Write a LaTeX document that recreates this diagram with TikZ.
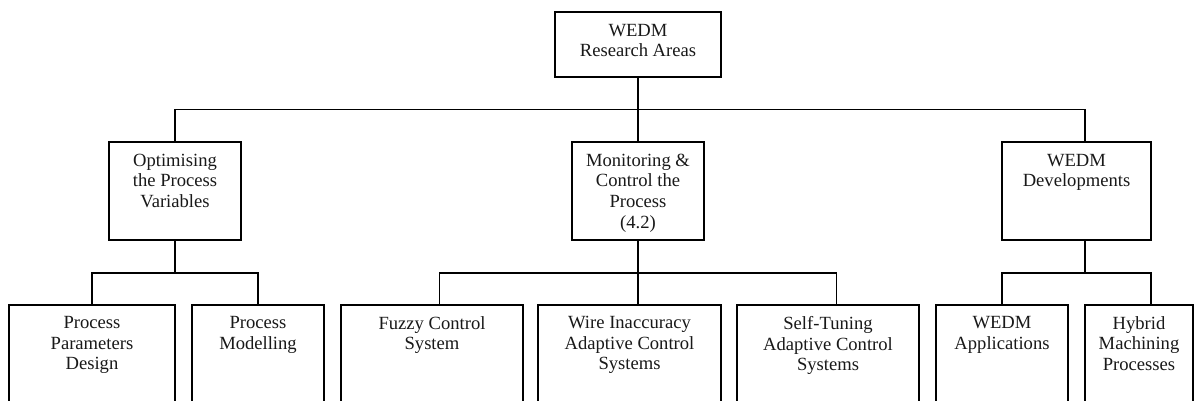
\documentclass[tikz,border=0pt]{standalone}
\usepackage{fontspec}
\setmainfont{Liberation Serif}
\usetikzlibrary{calc}
\tikzset{
  box/.style={draw=black, line width=1.5pt, inner sep=0pt, rectangle},
  lbl/.style={align=center, inner sep=0pt, anchor=north, font=\fontsize{18.6}{20.6}\selectfont, text=black!90},
  conn/.style={draw=black, line width=1.5pt}
}
\begin{document}
\begin{tikzpicture}[x=1pt,y=-1pt]
\useasboundingbox (0,0) rectangle (1194,401);
\clip (0,0) rectangle (1194,401);
\fill[white] (0,0) rectangle (1194,401);
% root
\node[box, minimum width=166pt, minimum height=65pt] (root) at (638,44.5) {};
\node[lbl] (rootT) at ([yshift=-12.5pt]root.north) {WEDM\\Research Areas};
% level 2
\node[box, minimum width=132pt, minimum height=98pt] (opt) at (175,191) {};
\node[lbl] (optT) at ([yshift=-12.5pt]opt.north) {Optimising\\the Process\\Variables};
\node[box, minimum width=132pt, minimum height=98pt] (mon) at (638,191) {};
\node[lbl] (monT) at ([yshift=-12.5pt]mon.north) {Monitoring \&\\Control the\\Process\\(4.2)};
\node[box, minimum width=149pt, minimum height=98pt] (dev) at (1076.5,191) {};
\node[lbl] (devT) at ([yshift=-12.5pt]dev.north) {WEDM\\Developments};
% level 3
\node[box, minimum width=166pt, minimum height=120pt] (ppd) at (92,365) {};
\node[lbl] (ppdT) at ([yshift=-12pt]ppd.north) {Process\\Parameters\\Design};
\node[box, minimum width=132pt, minimum height=120pt] (pm) at (258,365) {};
\node[lbl] (pmT) at ([yshift=-12pt]pm.north) {Process\\Modelling};
\node[box, minimum width=182pt, minimum height=120pt] (fuz) at (432,365) {};
\node[lbl] (fuzT) at ([yshift=-12pt]fuz.north) {Fuzzy Control\\System};
\node[box, minimum width=183pt, minimum height=120pt] (wire) at (629.5,365) {};
\node[lbl] (wireT) at ([yshift=-12pt]wire.north) {Wire Inaccuracy\\Adaptive Control\\Systems};
\node[box, minimum width=182pt, minimum height=120pt] (self) at (828,365) {};
\node[lbl] (selfT) at ([yshift=-12pt]self.north) {Self-Tuning\\Adaptive Control\\Systems};
\node[box, minimum width=132pt, minimum height=120pt] (app) at (1002,365) {};
\node[lbl] (appT) at ([yshift=-12pt]app.north) {WEDM\\Applications};
\node[box, minimum width=108pt, minimum height=120pt] (hyb) at (1139,365) {};
\node[lbl] (hybT) at ([yshift=-12pt]hyb.north) {Hybrid\\Machining\\Processes};
% connectors level 1 -> 2
\coordinate (b1) at ($(root.south)+(0,32)$);
\draw[conn] (root.south) -- (b1);
\draw[conn] (opt.north) |- (b1) -| ($(dev.north)+(8.5,0)$);
\draw[conn] (b1) -- (mon.north);
% opt children
\coordinate (b2) at ($(opt.south)+(0,32)$);
\draw[conn] (opt.south) -- (b2);
\draw[conn] (ppd.north) |- (b2) -| (pm.north);
% mon children
\coordinate (b3) at ($(mon.south)+(0,32)$);
\draw[conn] ($(fuz.north)+(7.5,0)$) |- (b3) -| ($(self.north)+(8.5,0)$);
\draw[conn] (mon.south) -- (mon.south |- wire.north);
% dev children
\coordinate (b4) at ($(dev.south)+(8.5,32)$);
\draw[conn] ($(dev.south)+(8.5,0)$) -- (b4);
\draw[conn] (app.north) |- (b4) -| ($(hyb.north)+(12,0)$);
\end{tikzpicture}
\end{document}
